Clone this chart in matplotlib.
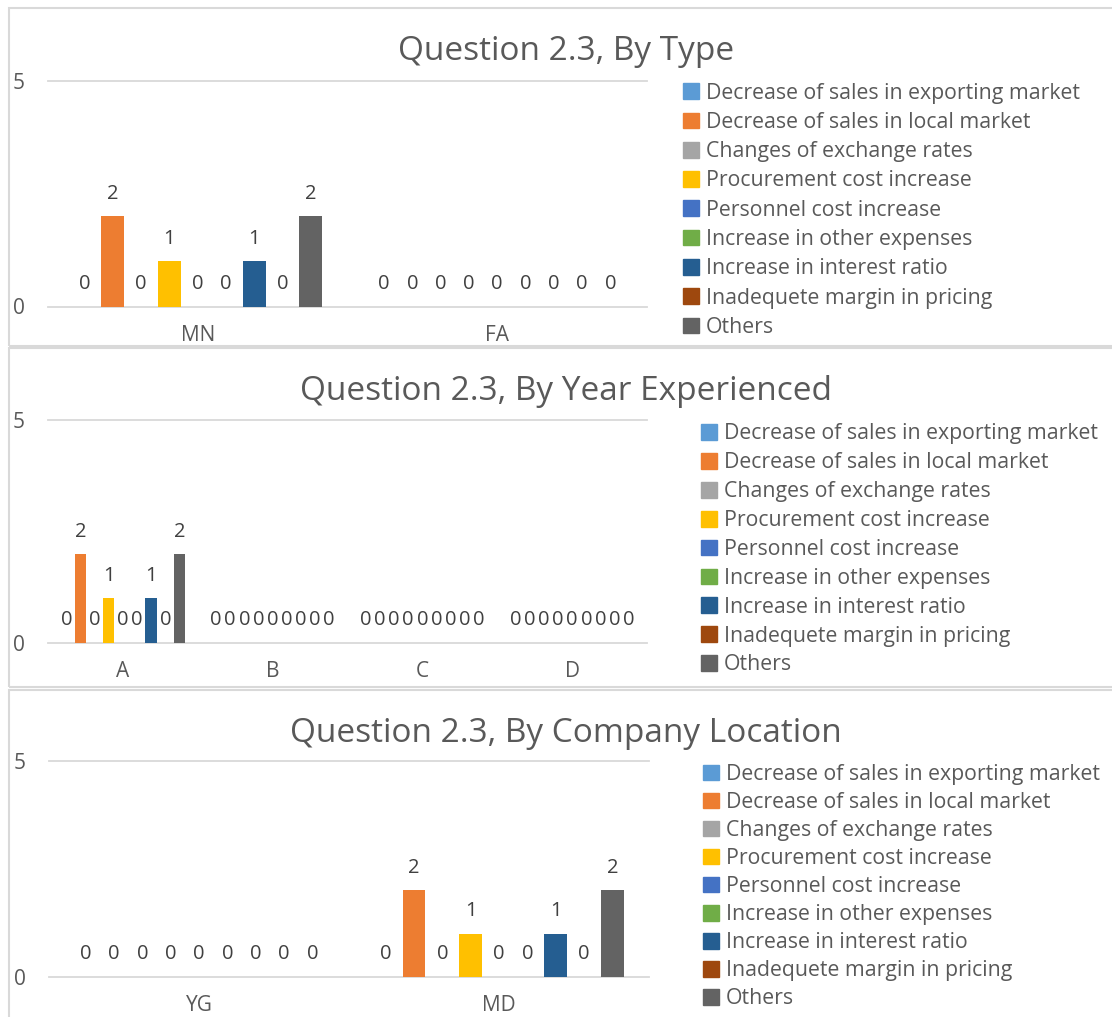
import matplotlib
matplotlib.use("Agg")
import matplotlib.pyplot as plt
from matplotlib.patches import Rectangle, Patch

plt.rcParams['font.family'] = ['Open Sans', 'DejaVu Sans']

W, H = 1112, 1017
TXT = '#595959'
GRID = '#D9D9D9'

series = ['Decrease of sales in exporting market', 'Decrease of sales in local market',
          'Changes of exchange rates', 'Procurement cost increase', 'Personnel cost increase',
          'Increase in other expenses', 'Increase in interest ratio',
          'Inadequete margin in pricing', 'Others']
colors = ['#5B9BD5', '#ED7D31', '#A5A5A5', '#FFC000', '#4472C4',
          '#70AD47', '#255E91', '#9E480E', '#636363']

# values per category, one entry per series (same order as `series`)
type_cats = ['MN', 'FA']
type_vals = [[0, 2, 0, 1, 0, 0, 1, 0, 2],
             [0, 0, 0, 0, 0, 0, 0, 0, 0]]

year_cats = ['A', 'B', 'C', 'D']
year_vals = [[0, 2, 0, 1, 0, 0, 1, 0, 2],
             [0, 0, 0, 0, 0, 0, 0, 0, 0],
             [0, 0, 0, 0, 0, 0, 0, 0, 0],
             [0, 0, 0, 0, 0, 0, 0, 0, 0]]

loc_cats = ['YG', 'MD']
loc_vals = [[0, 0, 0, 0, 0, 0, 0, 0, 0],
            [0, 2, 0, 1, 0, 0, 1, 0, 2]]


def fx(x):
    return x / W


def fy(y):
    return 1 - y / H


fig = plt.figure(figsize=(W / 100, H / 100), dpi=100)

# panel frames
for top, bot in [(8, 346), (348.5, 686.5), (689.5, 1040)]:
    fig.add_artist(Rectangle((fx(9), fy(bot)), fx(1130) - fx(9), fy(top) - fy(bot),
                             transform=fig.transFigure, fill=False,
                             edgecolor=GRID, lw=1.5, clip_on=False))


def panel(cats, vals, title, box, title_y, leg_x, leg_y, leg_gap):
    x0, y5, x1, y0 = box
    ax = fig.add_axes([fx(x0), fy(y0), fx(x1) - fx(x0), fy(y5) - fy(y0)])
    n = len(cats)
    ax.set_xlim(0, n)
    ax.set_ylim(0, 5)
    centers = [i + 0.5 for i in range(n)]
    slot = 0.85 / len(series)
    width = slot * 0.81
    ax.axhline(0, color=GRID, lw=1.3, clip_on=False, zorder=0)
    ax.axhline(5, color=GRID, lw=1.3, clip_on=False, zorder=0)
    for j, name in enumerate(series):
        xs = [c + (j - 4) * slot for c in centers]
        ys = [row[j] for row in vals]
        bars = ax.bar(xs, ys, width, color=colors[j], label=name, zorder=2)
        for rect in bars:
            h = rect.get_height()
            ax.annotate(f'{h:g}', (rect.get_x() + rect.get_width() / 2, h),
                        xytext=(0, 16), textcoords='offset points',
                        ha='center', va='center', fontsize=14.5, color='#404040')
    ax.set_xticks(centers)
    ax.set_xticklabels(cats)
    ax.set_yticks([0, 5])
    ax.tick_params(axis='x', length=0, pad=13.5, labelsize=15, labelcolor=TXT)
    ax.tick_params(axis='y', length=0, pad=17, labelsize=15, labelcolor=TXT)
    for s in ax.spines.values():
        s.set_visible(False)
    fig.text(fx(566), fy(title_y), title, ha='center', va='center',
             fontsize=24, color=TXT)
    handles = [Patch(color=c) for c in colors]
    fig.legend(handles, series, loc='upper left', bbox_to_anchor=(fx(leg_x), fy(leg_y)),
               frameon=False, fontsize=15.3, labelcolor=TXT, borderpad=0, borderaxespad=0,
               handlelength=0.76, handleheight=0.76, handletextpad=0.3,
               labelspacing=leg_gap)
    return ax


panel(type_cats, type_vals, 'Question 2.3, By Type', (48, 80.7, 647, 306.5),
      51, 683, 82.5, 0.39)
panel(year_cats, year_vals, 'Question 2.3, By Year Experienced', (48, 420.3, 647, 642.7),
      391, 701, 423.5, 0.37)
panel(loc_cats, loc_vals, 'Question 2.3, By Company Location', (49, 761, 649, 976.7),
      734, 703, 764, 0.33)

fig.savefig('out.png', dpi=100)
